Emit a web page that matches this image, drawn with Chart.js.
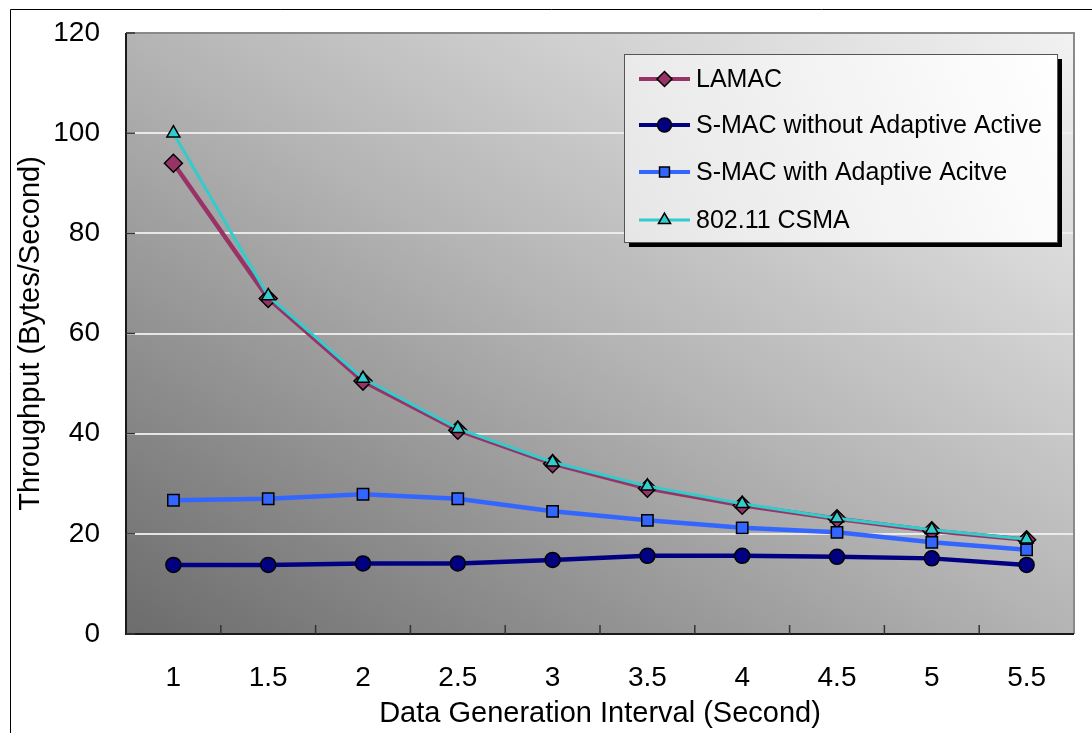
<!DOCTYPE html>
<html>
<head>
<meta charset="utf-8">
<script src="https://cdn.jsdelivr.net/npm/chart.js@4/dist/chart.umd.min.js"></script>
<style>
  html, body { margin: 0; padding: 0; background: #fff; }
  canvas { display: block; }
</style>
</head>
<body>
<canvas id="chart" width="1092" height="733"></canvas>
<script>
// data
const intervals = ["1", "1.5", "2", "2.5", "3", "3.5", "4", "4.5", "5", "5.5"];
const lamac = [94, 67, 50.5, 40.7, 34, 29.1, 25.7, 23, 20.6, 18.8];
const smacNoAdaptive = [13.8, 13.8, 14.1, 14.1, 14.8, 15.6, 15.6, 15.4, 15.1, 13.8];
const smacAdaptive = [26.7, 27, 27.9, 27, 24.5, 22.7, 21.2, 20.3, 18.3, 16.8];
const csma = [100, 67.5, 51, 41, 34.3, 29.5, 26, 23.1, 20.8, 18.9];
const yTicks = [0, 20, 40, 60, 80, 100, 120];

const FONT = "'Liberation Sans', Arial, sans-serif";

// ---------- background, frame, inner ticks ----------
const plotDecor = {
  id: "plotDecor",
  beforeDraw(chart) {
    const { ctx, chartArea: a } = chart;
    ctx.save();
    // outer frame (left + top only visible)
    ctx.strokeStyle = "#000";
    ctx.lineWidth = 1;
    ctx.beginPath();
    ctx.moveTo(10.5, 733);
    ctx.lineTo(10.5, 9.5);
    ctx.lineTo(1092, 9.5);
    ctx.stroke();

    // diagonal grey gradient
    const W = a.right - a.left, H = a.bottom - a.top;
    const k = 2 * W * H / (W * W + H * H);
    const g = ctx.createLinearGradient(a.left, a.bottom, a.left + H * k, a.bottom - W * k);
    g.addColorStop(0, "#6c6c6c");
    g.addColorStop(0.5, "#b4b4b4");
    g.addColorStop(1, "#f2f2f2");
    ctx.fillStyle = g;
    ctx.fillRect(a.left, a.top, W, H);
    ctx.restore();
  },
  beforeDatasetsDraw(chart) {
    const { ctx, chartArea: a, scales } = chart;
    ctx.save();
    // border: grey top/right, dark left/bottom
    ctx.lineWidth = 2;
    ctx.strokeStyle = "#8a8a8a";
    ctx.beginPath();
    ctx.moveTo(a.left, a.top);
    ctx.lineTo(a.right, a.top);
    ctx.lineTo(a.right, a.bottom);
    ctx.stroke();
    ctx.strokeStyle = "#1a1a1a";
    ctx.beginPath();
    ctx.moveTo(a.left, a.top);
    ctx.lineTo(a.left, a.bottom);
    ctx.lineTo(a.right, a.bottom);
    ctx.stroke();

    // inward tick marks
    ctx.lineWidth = 1.5;
    ctx.strokeStyle = "#333";
    yTicks.forEach(v => {
      const y = scales.y.getPixelForValue(v);
      ctx.beginPath();
      ctx.moveTo(a.left, y);
      ctx.lineTo(a.left + 9, y);
      ctx.stroke();
    });
    for (let i = 1; i < intervals.length; i++) {
      const x = (scales.x.getPixelForValue(i - 1) + scales.x.getPixelForValue(i)) / 2;
      ctx.beginPath();
      ctx.moveTo(x, a.bottom);
      ctx.lineTo(x, a.bottom - 9);
      ctx.stroke();
    }
    ctx.restore();
  }
};

// ---------- legend box ----------
const boxLegend = {
  id: "boxLegend",
  afterDraw(chart) {
    const { ctx } = chart;
    const bx = 624, by = 54, bw = 433, bh = 188;
    ctx.save();
    // shadow
    ctx.fillStyle = "#000";
    ctx.fillRect(bx + 5, by + 5, bw, bh);
    const g = ctx.createLinearGradient(bx, by + bh, bx + bw, by);
    g.addColorStop(0, "#e6e6e6");
    g.addColorStop(1, "#ffffff");
    ctx.fillStyle = g;
    ctx.fillRect(bx, by, bw, bh);
    ctx.strokeStyle = "#555";
    ctx.lineWidth = 1;
    ctx.strokeRect(bx + 0.5, by + 0.5, bw, bh);

    const rowY = [79, 125, 172, 220];
    const shown = [0, 1, 2, 3]; // by legend row
    shown.forEach((di, r) => {
      const ds = chart.data.datasets[di];
      const y = rowY[r];
      ctx.strokeStyle = ds.borderColor;
      ctx.lineWidth = Math.min(ds.borderWidth, 4);
      ctx.beginPath();
      ctx.moveTo(639, y);
      ctx.lineTo(690, y);
      ctx.stroke();
      ctx.fillStyle = ds.pointBackgroundColor;
      ctx.strokeStyle = ds.pointBorderColor;
      ctx.lineWidth = ds.pointBorderWidth;
      Chart.helpers.drawPoint(ctx, {
        pointStyle: ds.pointStyle,
        radius: ds.legendRadius,
        borderWidth: ds.pointBorderWidth,
        rotation: 0
      }, 664.5, y);
      ctx.fillStyle = "#000";
      ctx.font = "25px " + FONT;
      ctx.textBaseline = "middle";
      ctx.textAlign = "left";
      ctx.fillText(ds.label, 696, y + 1);
    });
    ctx.restore();
  }
};

new Chart(document.getElementById("chart"), {
  type: "line",
  data: {
    labels: intervals,
    datasets: [
      {
        label: "LAMAC",
        data: lamac,
        borderColor: "#993366",
        borderWidth: 4.5,
        pointStyle: "rectRot",
        pointRadius: 9,
        legendRadius: 7.5,
        pointBackgroundColor: "#993366",
        pointBorderColor: "#000",
        pointBorderWidth: 1.5,
        order: 3
      },
      {
        label: "S-MAC without Adaptive Active",
        data: smacNoAdaptive,
        borderColor: "#000080",
        borderWidth: 4.5,
        pointStyle: "circle",
        pointRadius: 7.5,
        legendRadius: 7,
        pointBackgroundColor: "#000080",
        pointBorderColor: "#000",
        pointBorderWidth: 1.5,
        order: 2
      },
      {
        label: "S-MAC with Adaptive Acitve",
        data: smacAdaptive,
        borderColor: "#3366ff",
        borderWidth: 4.5,
        pointStyle: "rect",
        pointRadius: 8,
        legendRadius: 7,
        pointBackgroundColor: "#3366ff",
        pointBorderColor: "#000",
        pointBorderWidth: 1.5,
        order: 1
      },
      {
        label: "802.11 CSMA",
        data: csma,
        borderColor: "#33cccc",
        borderWidth: 3,
        pointStyle: "triangle",
        pointRadius: 7.5,
        legendRadius: 7,
        pointBackgroundColor: "#33cccc",
        pointBorderColor: "#000",
        pointBorderWidth: 1.5,
        order: 0
      }
    ]
  },
  options: {
    responsive: false,
    animation: false,
    devicePixelRatio: 1,
    layout: { padding: { left: 0, top: 33, right: 18, bottom: 0 } },
    elements: { line: { tension: 0 } },
    plugins: {
      legend: { display: false },
      tooltip: { enabled: false }
    },
    scales: {
      x: {
        offset: true,
        grid: { display: false, drawTicks: false },
        border: { display: false },
        ticks: { color: "#000", font: { family: FONT, size: 28 }, padding: 27, maxRotation: 0 },
        title: {
          display: true,
          text: "Data Generation Interval (Second)",
          color: "#000",
          font: { family: FONT, size: 29 },
          padding: { top: 0, bottom: 2 }
        },
        afterFit(scale) {
          scale.height = 99;
          scale.paddingLeft = 0;
          scale.paddingRight = 0;
        }
      },
      y: {
        min: 0,
        max: 120,
        afterBuildTicks(scale) { scale.ticks = yTicks.map(v => ({ value: v })); },
        grid: { color: "rgba(240,240,240,0.9)", lineWidth: 2, drawTicks: false },
        border: { display: false },
        ticks: { color: "#000", font: { family: FONT, size: 28 }, padding: 26 },
        title: {
          display: true,
          text: "Throughput (Bytes/Second)",
          color: "#000",
          font: { family: FONT, size: 29 },
          padding: { top: 14, bottom: 0 }
        },
        afterFit(scale) {
          scale.width = 126;
          scale.paddingTop = 0;
          scale.paddingBottom = 0;
        }
      }
    }
  },
  plugins: [plotDecor, boxLegend]
});
</script>
</body>
</html>
